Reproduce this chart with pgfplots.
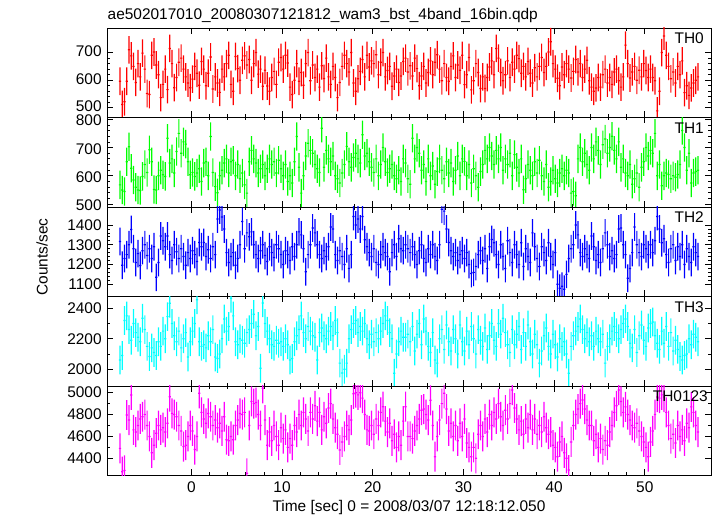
\documentclass[border=0pt]{standalone}
\usepackage{fontspec}
\setmainfont{Liberation Sans}
\usepackage{pgfplots}
\usepackage{pgfplotstable}
\pgfplotsset{compat=1.18}
\definecolor{qred}{RGB}{255,0,0}
\definecolor{qgreen}{RGB}{0,255,0}
\definecolor{qblue}{RGB}{0,0,255}
\definecolor{qcyan}{RGB}{0,255,255}
\definecolor{qmagenta}{RGB}{255,0,255}

% t = bin centre [s]; a=TH0, b=TH1, c=TH2, d=TH3, e=TH0123 [counts/sec]
\pgfplotstableread{
t a b c d e
-7.875 596 568 1316 2061 4491
-7.625 512 550 1196 2090 4278
-7.375 522 545 1230 2320 4290
-7.125 596 650 1250 2350 4796
-6.875 710 703 1300 2260 4750
-6.625 688 627 1377 2190 4979
-6.375 650 585 1280 2300 4660
-6.125 592 560 1210 2240 4640
-5.875 660 550 1255 2210 4700
-5.625 612 548 1195 2180 4760
-5.375 698 598 1270 2334 4780
-5.125 640 640 1300 2260 4800
-4.875 552 612 1245 2150 4700
-4.625 548 692 1280 2083 4600
-4.375 690 650 1230 2140 4450
-4.125 702 552 1290 2110 4520
-3.875 655 550 1135 2090 4630
-3.625 620 600 1210 2180 4700
-3.375 537 620 1344 2150 4660
-3.125 585 604 1320 2250 4680
-2.875 640 598 1290 2200 4640
-2.625 566 733 1344 2345 4720
-2.375 715 645 1250 2433 4963
-2.125 660 660 1220 2300 4811
-1.875 573 610 1300 2220 4800
-1.625 610 686 1265 2180 4780
-1.375 665 750 1230 2250 4700
-1.125 680 680 1280 2140 4650
-0.875 640 720 1240 2200 4507
-0.625 612 712 1196 2240 4520
-0.375 590 650 1260 2080 4600
-0.125 573 604 1230 2180 4700
0.125 604 612 1270 2250 4650
0.375 650 598 1250 2300 4480
0.625 625 610 1215 2455 4600
0.875 582 625 1311 2180 4994
1.125 668 580 1290 2150 4820
1.375 640 645 1311 2160 4760
1.625 580 650 1240 2140 4720
1.875 625 600 1275 2220 4810
2.125 684 739 1230 2180 4780
2.375 568 612 1290 2260 4700
2.625 612 562 1250 2080 4750
2.875 590 540 1430 2070 4680
3.125 556 600 1476 2100 4720
3.375 640 620 1440 2200 4650
3.625 612 645 1380 2330 4780
3.875 660 660 1260 2250 4570
4.125 690 610 1210 2280 4560
4.375 585 650 1240 2466 4600
4.625 560 655 1260 2350 4570
4.875 686 600 1196 2180 4700
5.125 642 640 1230 2160 4750
5.375 600 590 1300 2200 4810
5.625 672 610 1418 2190 4800
5.875 688 568 1280 2170 4820
6.125 655 539 1360 2240 4263
6.375 675 650 1340 2260 4700
6.625 600 690 1365 2300 4920
6.875 660 660 1300 2360 4900
7.125 700 645 1250 2220 4910
7.375 622 610 1230 2280 4800
7.625 640 625 1270 2006 4700
7.875 578 640 1300 2435 5040
8.125 636 600 1245 2300 4750
8.375 579 625 1215 2250 4520
8.625 560 660 1290 2200 4640
8.875 610 640 1260 2160 4560
9.125 632 650 1235 2150 4700
9.375 585 610 1300 2190 4600
9.625 665 655 1280 2170 4520
9.875 682 625 1250 2180 4680
10.125 640 600 1200 2150 4580
10.375 690 640 1270 2200 4660
10.625 662 580 1250 2160 4500
10.875 575 600 1220 2061 4580
11.125 548 575 1290 2070 4520
11.375 600 650 1240 2180 4700
11.625 660 739 1300 2220 4640
11.875 596 630 1365 2260 4800
12.125 628 539 1350 2350 4700
12.375 582 600 1280 2240 4820
12.625 660 670 1163 2200 4760
12.875 700 715 1250 2280 4650
13.125 598 690 1300 2250 4820
13.375 655 680 1385 2220 4760
13.625 610 640 1360 2210 4880
13.875 640 625 1300 2060 4740
14.125 575 612 1250 2240 4820
14.375 652 768 1230 2270 4660
14.625 606 630 1270 2220 4780
14.875 680 690 1240 2200 4720
15.125 612 660 1290 2250 4860
15.375 585 650 1390 2280 4900
15.625 650 670 1380 2220 4760
15.875 610 600 1250 2320 4680
16.125 537 590 1220 2240 4620
16.375 592 575 1270 2040 4476
16.625 650 610 1240 1975 4550
16.875 690 640 1200 2000 4600
17.125 660 704 1280 2040 4700
17.375 630 650 1180 2200 4660
17.625 700 630 1250 2260 4750
17.875 590 665 1443 2300 4990
18.125 560 680 1400 2320 5000
18.375 605 660 1430 2240 4980
18.625 632 645 1380 2280 5000
18.875 675 745 1443 2250 4950
19.125 612 670 1325 2300 4800
19.375 690 680 1290 2200 4660
19.625 648 650 1260 2160 4650
19.875 670 630 1240 2230 4700
20.125 660 612 1280 2180 4620
20.375 692 660 1210 2240 4760
20.625 620 600 1200 2200 4700
20.875 665 640 1250 2250 4820
21.125 700 700 1290 2300 4872
21.375 612 650 1260 2350 4740
21.625 635 612 1240 2320 4640
21.875 650 625 1163 2240 4720
22.125 578 640 1260 2200 4560
22.375 615 600 1300 1974 4620
22.625 640 590 1240 2100 4500
22.875 592 620 1330 2180 4600
23.125 615 580 1280 2250 4520
23.375 668 660 1270 2210 4740
23.625 680 645 1300 2210 4872
23.875 630 590 1280 2230 4600
24.125 652 570 1260 2180 4600
24.375 615 733 1290 2280 4580
24.625 680 660 1250 2120 4650
24.875 642 700 1200 2230 4700
25.125 580 680 1270 2300 4760
25.375 615 620 1300 2160 4840
25.625 650 640 1230 2330 4850
25.875 590 580 1210 2250 4800
26.125 628 660 1280 2150 4750
26.375 670 600 1250 2110 4930
26.625 620 635 1300 2240 4700
26.875 665 570 1240 2060 4415
27.125 692 615 1220 2040 4600
27.375 640 660 1300 2200 4750
27.625 598 620 1480 2260 4900
27.875 660 590 1470 2130 4994
28.125 610 650 1380 2290 4850
28.375 596 610 1311 2180 4650
28.625 650 645 1270 2120 4720
28.875 688 580 1240 2260 4600
29.125 610 620 1260 2200 4700
29.375 655 670 1220 2100 4560
29.625 636 600 1250 2290 4720
29.875 690 660 1270 2180 4600
30.125 584 651 1230 2120 4760
30.375 620 600 1260 2250 4540
30.625 682 640 1200 2160 4500
30.875 565 575 1154 2280 4415
31.125 598 625 1160 2200 4500
31.375 660 600 1190 2100 4400
31.625 628 560 1250 2260 4620
31.875 570 615 1270 2190 4700
32.125 612 640 1220 2150 4600
32.375 570 690 1280 2270 4760
32.625 610 660 1180 2130 4640
32.875 648 700 1290 2220 4800
33.125 670 670 1327 2300 4700
33.375 620 640 1310 2190 4820
33.625 715 690 1250 2150 4760
33.875 680 660 1200 2300 4900
34.125 628 700 1300 2230 4780
34.375 598 620 1240 2335 4700
34.625 620 660 1180 2240 4840
34.875 670 640 1320 2160 4760
35.125 610 680 1260 2110 4900
35.375 665 600 1210 2260 5024
35.625 640 675 1300 2160 4860
35.875 690 630 1250 2230 4760
36.125 678 610 1200 2280 4660
36.375 625 660 1310 2130 4740
36.625 650 551 1190 2240 4620
36.875 612 590 1280 2150 4760
37.125 668 640 1240 2290 4680
37.375 625 620 1210 2180 4800
37.625 590 600 1360 2100 4660
37.875 645 650 1290 2230 4760
38.125 612 610 1230 2160 4620
38.375 650 655 1190 2040 4700
38.625 682 600 1290 2120 4640
38.875 628 580 1260 2220 4780
39.125 650 640 1220 2270 4680
39.375 702 560 1310 2150 4620
39.625 739 580 1240 2100 4640
39.875 660 620 1200 2230 4520
40.125 640 590 1260 2160 4500
40.375 607 575 1100 2080 4415
40.625 580 610 1080 2200 4550
40.875 648 625 1090 2150 4600
41.125 620 600 1075 2180 4450
41.375 660 620 1150 2100 4400
41.625 640 610 1230 1974 4293
41.875 608 539 1280 2150 4550
42.125 632 545 1300 2220 4700
42.375 675 530 1400 2250 4800
42.625 630 660 1350 2280 4850
42.875 660 700 1260 2330 4900
43.125 610 650 1240 2260 4933
43.375 640 680 1280 2200 4850
43.625 672 640 1250 2240 4750
43.875 598 620 1230 2180 4700
44.125 575 700 1344 2220 4700
44.375 560 660 1290 2150 4560
44.625 572 720 1220 2250 4620
44.875 610 690 1250 2200 4500
45.125 575 640 1210 2180 4580
45.375 620 710 1280 2230 4480
45.625 640 730 1360 2040 4560
45.875 590 680 1300 2150 4520
46.125 610 700 1240 2200 4640
46.375 585 740 1270 2250 4700
46.625 630 690 1230 2280 4820
46.875 640 660 1250 2240 4880
47.125 598 720 1380 2200 5024
47.375 575 630 1385 2260 4920
47.625 612 660 1300 2300 4820
47.875 727 610 1250 2330 4870
48.125 660 600 1130 2280 4800
48.375 608 640 1180 2170 4750
48.625 630 570 1260 2140 4700
48.875 650 590 1390 2260 4680
49.125 600 610 1300 2110 4720
49.375 636 560 1260 2220 4650
49.625 612 630 1240 2290 4600
49.875 660 650 1300 2190 4550
50.125 635 700 1280 2150 4500
50.375 610 670 1250 2270 4415
50.625 640 690 1300 2300 4550
50.875 610 680 1260 2310 4650
51.125 598 750 1320 2220 4800
51.375 489 600 1443 2170 4960
51.625 560 640 1380 2130 4950
51.875 700 565 1310 2250 4980
52.125 760 600 1330 2170 4960
52.375 690 610 1250 2280 4820
52.625 650 605 1210 2150 4700
52.875 605 590 1280 2240 4580
53.125 630 600 1300 2120 4620
53.375 590 595 1220 2190 4540
53.625 650 605 1290 2130 4700
53.875 620 640 1240 2083 4600
54.125 670 760 1300 2060 4660
54.375 555 700 1200 2090 4560
54.625 580 620 1280 2100 4720
54.875 545 680 1240 2200 4680
55.125 572 575 1210 2160 4870
55.375 590 610 1290 2230 4820
55.625 600 615 1260 2210 4700
55.875 612 620 1240 2180 4640
}\datatable

\pgfplotsset{
  panel/.style={
    width=604bp, height=89.5bp, scale only axis,
    anchor=north west,
    ybar stacked, stack negative=on previous,
    xmin=-9.3, xmax=57.3,
    xtick={0,10,20,30,40,50}, minor x tick num=4,
    xticklabels={},
    tick align=inside,
    major tick length=6bp, minor tick length=3bp,
    axis line style={line width=0.9bp},
    every tick/.style={black, line width=0.7bp},
    tick label style={font=\fontsize{15.5}{18}\selectfont},
    /pgf/number format/assume math mode=true,
    /pgf/number format/1000 sep={},
    scaled y ticks=false,
    clip=true,
  },
  hid/.style={draw=none, fill=none, bar width=#1},
  vis/.style 2 args={draw=none, fill=#2, bar width=#1},
}
% Each bin is drawn as a cross of stacked bars: an invisible bar up to
% (rate - sigma), a vertical bar of length 2 sigma, an invisible step back
% down to the rate, and a horizontal bar one bin (0.25 s) wide.

\begin{document}
\fontsize{15.5}{18}\selectfont
\begin{tikzpicture}
\path[use as bounding box] (0,0) rectangle (717bp,516bp);

% TH0  (sigma = 50)
\begin{axis}[panel, name=p1, at={(107bp,488bp)}, ymin=465, ymax=789,
  ytick={500,600,700}, minor y tick num=4,
  yticklabel style={yshift=1.2bp}]
\addplot[hid=1.2bp] table[x=t, y expr=\thisrow{a}-50]{\datatable};
\addplot[vis={1.2bp}{qred}] table[x=t, y expr=100]{\datatable};
\addplot[hid=2.27bp] table[x=t, y expr=-52.15]{\datatable};
\addplot[vis={2.27bp}{qred}] table[x=t, y expr=4.3]{\datatable};
\end{axis}

% TH1  (sigma = 50)
\begin{axis}[panel, name=p2, at={(107bp,398.5bp)}, ymin=490, ymax=806,
  ytick={500,600,700,800}, minor y tick num=4,
  yticklabel style={yshift=-1.2bp}]
\addplot[hid=1.2bp] table[x=t, y expr=\thisrow{b}-50]{\datatable};
\addplot[vis={1.2bp}{qgreen}] table[x=t, y expr=100]{\datatable};
\addplot[hid=2.27bp] table[x=t, y expr=-52.1]{\datatable};
\addplot[vis={2.27bp}{qgreen}] table[x=t, y expr=4.2]{\datatable};
\end{axis}

% TH2  (sigma = 70)
\begin{axis}[panel, name=p3, at={(107bp,309bp)}, ymin=1038, ymax=1491,
  ytick={1100,1200,1300,1400}, minor y tick num=4]
\addplot[hid=1.2bp] table[x=t, y expr=\thisrow{c}-70]{\datatable};
\addplot[vis={1.2bp}{qblue}] table[x=t, y expr=140]{\datatable};
\addplot[hid=2.27bp] table[x=t, y expr=-73.05]{\datatable};
\addplot[vis={2.27bp}{qblue}] table[x=t, y expr=6.1]{\datatable};
\end{axis}

% TH3  (sigma = 94)
\begin{axis}[panel, name=p4, at={(107bp,219.5bp)}, ymin=1890, ymax=2477,
  ytick={2000,2200,2400}, minor y tick num=1]
\addplot[hid=1.2bp] table[x=t, y expr=\thisrow{d}-94]{\datatable};
\addplot[vis={1.2bp}{qcyan}] table[x=t, y expr=188]{\datatable};
\addplot[hid=2.27bp] table[x=t, y expr=-97.95]{\datatable};
\addplot[vis={2.27bp}{qcyan}] table[x=t, y expr=7.9]{\datatable};
\end{axis}

% TH0123  (sigma = 137)
\begin{axis}[panel, name=p5, at={(107bp,130bp)}, ymin=4243, ymax=5061,
  ytick={4400,4600,4800,5000}, minor y tick num=1,
  xticklabels={0,10,20,30,40,50},
  xticklabel style={yshift=-1bp}]
\addplot[hid=1.2bp] table[x=t, y expr=\thisrow{e}-137]{\datatable};
\addplot[vis={1.2bp}{qmagenta}] table[x=t, y expr=274]{\datatable};
\addplot[hid=2.27bp] table[x=t, y expr=-142.5]{\datatable};
\addplot[vis={2.27bp}{qmagenta}] table[x=t, y expr=11]{\datatable};
\end{axis}

% panel labels, drawn over the data
\node[anchor=north east, inner sep=0pt] at ([xshift=-7bp, yshift=-5bp]p1.north east) {TH0};
\node[anchor=north east, inner sep=0pt] at ([xshift=-7bp, yshift=-5bp]p2.north east) {TH1};
\node[anchor=north east, inner sep=0pt] at ([xshift=-7bp, yshift=-5bp]p3.north east) {TH2};
\node[anchor=north east, inner sep=0pt] at ([xshift=-7bp, yshift=-5bp]p4.north east) {TH3};
\node[anchor=north east, inner sep=0pt] at ([xshift=-3bp, yshift=-5bp]p5.north east) {TH0123};

% titles
\node[anchor=base west, inner sep=0pt] at (107.5bp,496.7bp) {ae502017010\_20080307121812\_wam3\_bst\_4band\_16bin.qdp};
\node[anchor=base, inner sep=0pt] at (409bp,5bp) {Time [sec] 0 = 2008/03/07 12:18:12.050};
\node[rotate=90, inner sep=0pt] at (42bp,259bp) {Counts/sec};
\end{tikzpicture}
\end{document}
